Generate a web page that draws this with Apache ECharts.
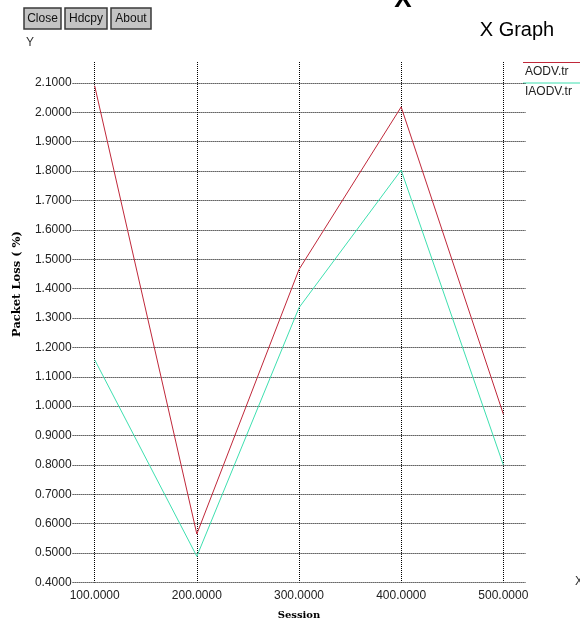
<!DOCTYPE html>
<html>
<head>
<meta charset="utf-8">
<style>
  html, body { margin: 0; padding: 0; background: #fff; }
  #chart { width: 580px; height: 626px; }
</style>
<script src="https://cdn.jsdelivr.net/npm/echarts@6/dist/echarts.min.js"></script>
</head>
<body>
<div id="chart"></div>
<script>
// Packet loss per session count, xgraph-style plot
var sessions = [100, 200, 300, 400, 500];
var aodv = [2.09, 0.565, 1.465, 2.018, 0.973];
var iaodv = [1.158, 0.489, 1.335, 1.803, 0.80];
var seriesNames = ['AODV.tr', 'IAODV.tr'];
var xTicks = [100, 200, 300, 400, 500];
var yTicks = [0.4, 0.5, 0.6, 0.7, 0.8, 0.9, 1.0, 1.1, 1.2, 1.3, 1.4, 1.5, 1.6, 1.7, 1.8, 1.9, 2.0, 2.1];
var buttons = ['Close', 'Hdcpy', 'About'];

var RED = '#c0283a';
var GREEN = '#3ee0b0';
var labelFont = 'Liberation Sans, Arial, sans-serif';
var serifFont = 'DejaVu Serif, serif';

var chart = echarts.init(document.getElementById('chart'), null, { renderer: 'canvas' });

function pairs(xs, ys) {
  return xs.map(function (x, i) { return [x, ys[i]]; });
}

// toolbar buttons along the top-left
var buttonGraphics = [];
var bx = [24, 65, 111];
var bw = [37, 42, 40];
buttons.forEach(function (name, i) {
  buttonGraphics.push({
    type: 'rect',
    shape: { x: bx[i], y: 8, width: bw[i], height: 21 },
    style: { fill: '#c4c4c4', stroke: '#3a3a3a', lineWidth: 1.5 }
  });
  buttonGraphics.push({
    type: 'text',
    x: bx[i] + bw[i] / 2, y: 18.5,
    style: { text: name, font: '12px ' + labelFont, fill: '#111', align: 'center', verticalAlign: 'middle' }
  });
});

// legend: a coloured rule above each file name
var legendGraphics = [];
[RED, GREEN].forEach(function (c, i) {
  var ly = 62.5 + i * 20.5;
  legendGraphics.push({
    type: 'line',
    shape: { x1: 523, y1: ly, x2: 580, y2: ly },
    style: { stroke: c, lineWidth: 1 }
  });
  legendGraphics.push({
    type: 'text',
    x: 525, y: ly + 9,
    style: { text: seriesNames[i], font: '12px ' + labelFont, fill: '#222', align: 'left', verticalAlign: 'middle' }
  });
});

var option = {
  backgroundColor: '#ffffff',
  animation: false,
  grid: { left: 72.6, right: 54.6, top: 62, bottom: 43.5, containLabel: false },
  xAxis: {
    type: 'value',
    min: 78.4,
    max: 521.6,
    axisLine: { show: false },
    axisTick: { show: false, customValues: xTicks },
    axisLabel: {
      customValues: xTicks,
      formatter: function (v) { return Number(v).toFixed(4); },
      fontFamily: labelFont,
      fontSize: 12,
      color: '#222',
      margin: 7
    },
    splitLine: { show: true, lineStyle: { color: '#000', type: 'dotted', width: 1 } },
    name: 'Session',
    nameLocation: 'middle',
    nameGap: 28,
    nameTextStyle: { fontFamily: serifFont, fontWeight: 'bold', fontSize: 10, color: '#000' }
  },
  yAxis: {
    type: 'value',
    min: 0.4,
    max: 2.171,
    axisLine: { show: false },
    axisTick: { show: false, customValues: yTicks },
    axisLabel: {
      customValues: yTicks,
      formatter: function (v) { return Number(v).toFixed(4); },
      fontFamily: labelFont,
      fontSize: 12,
      color: '#222',
      margin: 1
    },
    splitLine: { show: true, lineStyle: { color: '#000', type: 'dotted', width: 1 } }
  },
  series: [
    {
      name: seriesNames[0],
      type: 'line',
      data: pairs(sessions, aodv),
      symbol: 'none',
      lineStyle: { color: RED, width: 1 },
      itemStyle: { color: RED },
      z: 3
    },
    {
      name: seriesNames[1],
      type: 'line',
      data: pairs(sessions, iaodv),
      symbol: 'none',
      lineStyle: { color: GREEN, width: 1 },
      itemStyle: { color: GREEN },
      z: 2
    }
  ],
  graphic: buttonGraphics.concat(legendGraphics).concat([
    {
      type: 'text', x: 26, y: 43,
      style: { text: 'Y', font: '12px ' + labelFont, fill: '#333', align: 'left', verticalAlign: 'middle' }
    },
    {
      type: 'text', x: 517, y: 30,
      style: { text: 'X Graph', font: '20px ' + labelFont, fill: '#000', align: 'center', verticalAlign: 'middle' }
    },
    {
      type: 'text', x: 403, y: 0,
      style: { text: 'X', font: 'bold 26px ' + labelFont, fill: '#000', align: 'center', verticalAlign: 'middle' }
    },
    {
      type: 'text', x: 575, y: 582,
      style: { text: 'X', font: '12px ' + labelFont, fill: '#333', align: 'left', verticalAlign: 'middle' }
    },
    {
      type: 'text', x: 17, y: 284, rotation: Math.PI / 2,
      style: { text: 'Packet Loss ( %)', font: 'bold 11.5px ' + serifFont, fill: '#000', align: 'center', verticalAlign: 'middle' }
    }
  ])
};

chart.setOption(option);
</script>
</body>
</html>
